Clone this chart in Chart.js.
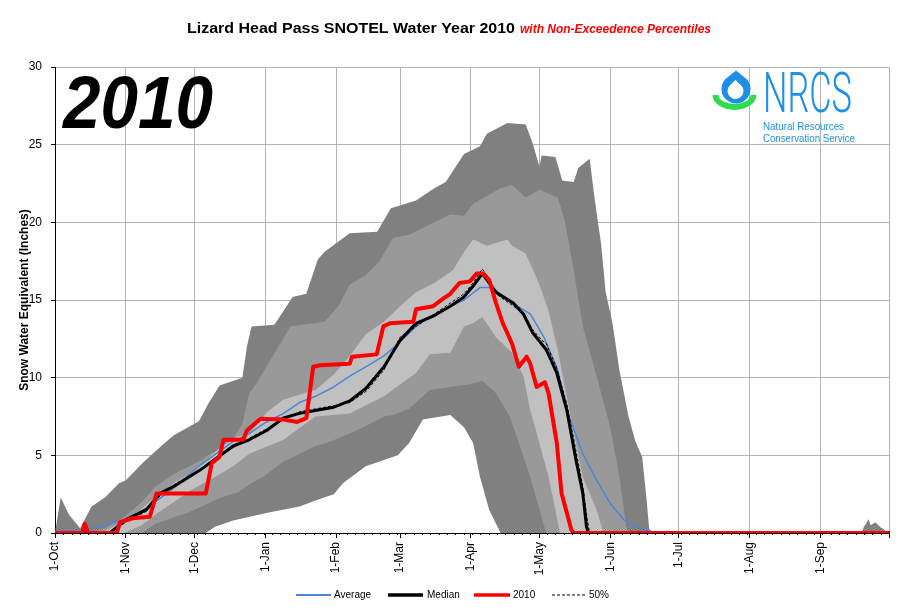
<!DOCTYPE html>
<html>
<head>
<meta charset="utf-8">
<script src="https://cdn.jsdelivr.net/npm/chart.js@4.4.1/dist/chart.umd.min.js"></script>
<style>
html,body{margin:0;padding:0;background:#fff;}
#wrap{width:901px;height:613px;}
</style>
</head>
<body>
<div id="wrap"><canvas id="c" width="901" height="613"></canvas></div>
<script>
// ---- axis categories (day of water year, starting 1-Oct) ----
const monthDays   = [0, 31, 61, 92, 123, 151, 182, 212, 243, 273, 304, 335, 365];
const monthLabels = ['1-Oct','1-Nov','1-Dec','1-Jan','1-Feb','1-Mar','1-Apr','1-May','1-Jun','1-Jul','1-Aug','1-Sep',''];
const yTicks = [0, 5, 10, 15, 20, 25, 30];

// ---- percentile envelopes [day, SWE inches] ----
const pMax = [[0,0],[2.5,2.3],[6,1.2],[11,0.3],[16,1.7],[22,2.3],[28,3.2],[31,3.4],[39,4.6],[48,5.8],[52,6.3],[63,7.2],[67,8.3],[72,9.5],[82,10.0],[84,12.0],[86,13.3],[96,13.4],[104,15.2],[110,15.4],[115,17.6],[118,18.1],[129,19.3],[141,19.4],[147,20.9],[158,21.4],[166,22.2],[171,22.6],[179,24.4],[186,24.9],[189,25.7],[198,26.4],[206,26.3],[209,25.1],[212,23.6],[213,24.3],[219,24.2],[222,22.7],[227,22.6],[229,23.5],[234,24.1],[236,21.7],[239,18.6],[241,15.5],[244,13.5],[247,10.5],[251,7.5],[254,5.9],[257,4.9],[259,2.0],[260,0.3],[261,0],[353,0],[354,0.4],[355,0.6],[356,0.9],[357,0.5],[359,0.7],[361,0.4],[363,0.2],[364,0],[365,0]];
const p90 = [[0,0],[15,0],[22,0.3],[30,1.0],[38,2.0],[44,3.0],[52,3.8],[63,4.6],[68,5.1],[76,5.7],[82,7.0],[85,9.0],[88,9.6],[97,11.8],[103,13.3],[118,13.6],[124,14.6],[129,16.0],[136,16.6],[142,17.5],[148,19.0],[155,19.2],[166,20.0],[173,20.5],[179,20.4],[183,21.2],[195,22.2],[200,22.4],[206,21.6],[212,22.1],[220,21.6],[223,20.2],[227,16.9],[231,13.3],[234,11.7],[237,10.1],[243,6.8],[247,3.6],[250,0.4],[251,0],[365,0]];
const p70 = [[0,0],[20,0],[28,0.6],[35,1.2],[44,2.3],[52,3.2],[61,4.0],[73,5.6],[80,6.2],[85,6.4],[93,7.8],[100,8.6],[114,9.2],[122,10.2],[129,11.4],[136,12.8],[144,13.6],[151,14.6],[158,15.5],[166,16.1],[174,16.9],[180,18.3],[183,18.9],[189,18.5],[198,18.9],[200,18.5],[206,18.0],[212,16.0],[216,14.3],[220,11.8],[225,8.0],[231,3.6],[237,1.5],[240,0],[365,0]];
const p30 = [[0,0],[30,0],[38,0.5],[45,1.3],[52,2.0],[60,2.8],[70,3.6],[78,4.3],[85,5.1],[100,6.0],[114,7.5],[129,7.7],[144,8.8],[158,10.3],[164,11.5],[173,11.6],[179,13.3],[183,13.5],[187,13.9],[193,12.6],[200,11.6],[205,10.1],[208,7.9],[212,5.8],[216,3.6],[219,1.5],[221,0],[365,0]];
const p10 = [[0,0],[38,0],[44,0.6],[58,1.3],[73,2.3],[80,2.6],[87,3.3],[91,3.6],[100,4.6],[103,4.8],[114,5.6],[119,5.8],[129,6.4],[135,6.8],[144,7.5],[148,7.6],[155,8.0],[164,9.2],[173,9.4],[182,9.6],[187,9.8],[193,9.0],[199,7.5],[203,5.8],[208,3.6],[212,1.5],[215,0],[365,0]];
const pMin = [[0,0],[66,0],[70,0.4],[78,0.8],[93,1.3],[107,1.7],[114,2.1],[122,2.5],[126,3.2],[136,4.3],[150,5.0],[155,5.8],[161,7.3],[173,7.6],[179,6.8],[183,5.8],[186,3.6],[190,1.5],[195,0],[365,0]];

// ---- line series ----
const avgSeries = [[0,0.1],[10,0.15],[20,0.4],[30,0.85],[40,1.6],[49,2.55],[63,4.3],[78,5.9],[85,6.4],[92,7.1],[100,7.7],[107,8.4],[114,8.8],[122,9.4],[129,10.1],[136,10.7],[144,11.4],[151,12.3],[158,13.3],[164,13.9],[173,14.6],[179,15.0],[186,15.8],[190,15.8],[193,15.6],[200,14.8],[208,14.1],[214,12.6],[220,10.5],[225,7.5],[231,5.1],[237,3.4],[243,1.9],[249,0.84],[254,0.4],[260,0.15],[263,0],[365,0]];
const medianSeries = [[0,0],[24,0],[31,0.84],[40,1.5],[46,2.55],[52,3.0],[63.5,4.05],[78,5.6],[85,6.0],[92.6,6.6],[100,7.4],[107,7.7],[114.5,7.9],[122,8.1],[129,8.5],[136,9.3],[144,10.7],[151,12.4],[158,13.5],[166,14.0],[173,14.6],[179,15.2],[183,15.9],[187,16.7],[190,16.1],[193,15.5],[200.6,14.8],[205,14.1],[209,12.9],[215,11.8],[219.6,10.3],[224,7.9],[228,4.7],[231,2.55],[232.6,0.4],[233.5,0],[365,0]];
const p50Series = [[0,0],[24,0],[31,0.7],[40,1.4],[46,2.4],[52,3.1],[63.5,4.1],[78,5.5],[85,6.1],[92.6,6.7],[100,7.3],[107,7.8],[114.5,8.0],[122,8.2],[129,8.4],[136,9.1],[140,9.8],[144,10.5],[151,12.6],[158,13.3],[166,14.1],[173,14.8],[179,15.4],[183,16.1],[187,17.0],[190,16.4],[193,15.4],[200.6,14.6],[205,14.2],[209,13.1],[213,12.4],[215,12.2],[219.6,10.6],[224,8.3],[228,5.3],[231,3.0],[233,0.8],[234,0],[365,0]];
const wy2010 = [[0,0],[12,0],[13,0.6],[14.5,0],[27,0],[28.5,0.7],[34,0.95],[41.5,1.05],[44.5,2.55],[66,2.55],[68.6,4.5],[72,4.9],[73.7,6.0],[82.4,6.0],[84,6.6],[86.8,6.95],[90,7.35],[100,7.3],[106,7.15],[110,7.4],[112,9.6],[113,10.7],[116,10.8],[129,10.9],[130,11.35],[140.8,11.5],[143.7,13.3],[146.6,13.5],[156.8,13.6],[158,14.4],[165.5,14.6],[170,15.1],[173,15.4],[177,16.1],[181.6,16.2],[184.5,16.7],[187.4,16.7],[190,16.3],[193,14.8],[196,13.5],[200,12.2],[203,10.7],[206.4,11.35],[208,10.9],[210.8,9.4],[214.4,9.7],[216,9.0],[219.6,5.8],[221.7,2.55],[224,1.3],[226,0.2],[227,0],[365,0]];

const DARK = '#808080', MED = '#999999', LIGHT = '#c0c0c0';
const GRID = '#b4b4b4';
const FONT = "'Liberation Sans', Arial, sans-serif";

Chart.defaults.font.family = FONT;
Chart.defaults.color = '#000';

function band(data, color, order) {
  return { data, fill: 'origin', backgroundColor: color, borderColor: 'rgba(0,0,0,0)',
           borderWidth: 0, pointRadius: 0, tension: 0, order };
}
function line(label, data, color, width, order, dash) {
  return { label, data, fill: false, borderColor: color, borderWidth: width, pointRadius: 0,
           tension: 0, order, borderDash: dash || [], borderJoinStyle: 'round' };
}

function fitText(ctx, text, font, color, x, baseline, width) {
  ctx.save();
  ctx.font = font;
  const w = ctx.measureText(text).width;
  ctx.translate(x, baseline);
  ctx.scale(width / w, 1);
  ctx.fillStyle = color;
  ctx.textAlign = 'left';
  ctx.textBaseline = 'alphabetic';
  ctx.fillText(text, 0, 0);
  ctx.restore();
}

function dropPath(ctx, cx, cy, r, tipY) {
  const d = cy - tipY;
  const phi = Math.acos(r / d);
  ctx.beginPath();
  ctx.moveTo(cx, tipY);
  ctx.lineTo(cx + r * Math.cos(-Math.PI / 2 + phi), cy + r * Math.sin(-Math.PI / 2 + phi));
  ctx.arc(cx, cy, r, -Math.PI / 2 + phi, -Math.PI / 2 - phi + 2 * Math.PI, false);
  ctx.closePath();
}

const minorTicks = {
  id: 'minorTicks',
  beforeDatasetsDraw(chart) {
    const ctx = chart.ctx, xs = chart.scales.x, base = chart.chartArea.bottom;
    ctx.save();
    ctx.strokeStyle = '#000';
    ctx.lineWidth = 1;
    for (let d = 0; d <= 365; d += 3.65) {
      const px = Math.round(xs.getPixelForValue(d)) + 0.5;
      ctx.beginPath(); ctx.moveTo(px, base - 2); ctx.lineTo(px, base + 2); ctx.stroke();
    }
    ctx.restore();
  }
};

const overlay = {
  id: 'overlay',
  afterDraw(chart) {
    const ctx = chart.ctx;
    // Title
    fitText(ctx, 'Lizard Head Pass SNOTEL Water Year 2010', "bold 14px " + FONT, '#000', 187, 33, 328);
    fitText(ctx, 'with Non-Exceedence Percentiles', "italic bold 12px " + FONT, '#ff0000', 520, 33, 191);
    // Big year
    fitText(ctx, '2010', "italic bold 74px " + FONT, '#000', 63, 128, 150);
    // NRCS logo
    ctx.save();
    ctx.fillStyle = '#1d8fe6';
    dropPath(ctx, 736, 89, 14.5, 70.5); ctx.fill();
    ctx.fillStyle = '#fff';
    dropPath(ctx, 735.5, 91, 8, 80); ctx.fill();
    ctx.fillStyle = '#2fdc4e';
    ctx.beginPath();
    ctx.ellipse(734.5, 95, 22, 15, 0, 0, Math.PI, false);
    ctx.ellipse(734.5, 95, 16, 9, 0, Math.PI, 0, true);
    ctx.closePath(); ctx.fill();
    ctx.restore();
    fitText(ctx, 'NRCS', "300 55px Roboto, " + FONT, '#1d8fe6', 763, 111.7, 89);
    fitText(ctx, 'Natural Resources', "10.5px " + FONT, '#1d8fe6', 763, 130, 81);
    fitText(ctx, 'Conservation Service', "10.5px " + FONT, '#1d8fe6', 763, 141.7, 92);
    // Legend
    const ly = 595;
    ctx.save();
    ctx.font = "10px " + FONT;
    ctx.textBaseline = 'middle';
    ctx.fillStyle = '#000';
    const items = [
      { x0: 296, x1: 331, color: '#4a86d8', w: 2, dash: [], text: 'Average', tx: 334 },
      { x0: 388, x1: 423, color: '#000', w: 3.5, dash: [], text: 'Median', tx: 427 },
      { x0: 474, x1: 510, color: '#ff0000', w: 3.5, dash: [], text: '2010', tx: 513 },
      { x0: 552, x1: 587, color: '#000', w: 1, dash: [3, 2], text: '50%', tx: 589 }
    ];
    items.forEach(it => {
      ctx.strokeStyle = it.color; ctx.lineWidth = it.w; ctx.setLineDash(it.dash);
      ctx.beginPath(); ctx.moveTo(it.x0, ly); ctx.lineTo(it.x1, ly); ctx.stroke();
      ctx.fillText(it.text, it.tx, ly);
    });
    ctx.restore();
  }
};

new Chart(document.getElementById('c'), {
  type: 'line',
  data: {
    datasets: [
      band(pMax, DARK, 20),
      band(p90, MED, 19),
      band(p70, LIGHT, 18),
      band(p30, MED, 17),
      band(p10, DARK, 16),
      band(pMin, '#ffffff', 15),
      line('Average', avgSeries, '#4a86d8', 1.5, 4),
      line('50%', p50Series, '#000', 1, 3, [3, 2]),
      line('Median', medianSeries, '#000', 3, 2),
      line('2010', wy2010, '#ff0000', 4, 1)
    ]
  },
  options: {
    responsive: false,
    animation: false,
    devicePixelRatio: 1,
    layout: { padding: { top: 67, right: 12, bottom: 0, left: 0 } },
    plugins: { legend: { display: false }, tooltip: { enabled: false } },
    scales: {
      x: {
        type: 'linear', min: 0, max: 365,
        afterBuildTicks: (s) => { s.ticks = monthDays.map(v => ({ value: v })); },
        afterFit: (s) => { s.height = 80; s.paddingLeft = 0; s.paddingRight = 0; },
        ticks: {
          autoSkip: false, maxRotation: 90, minRotation: 90, padding: 4,
          font: { size: 12 }, color: '#000',
          callback: (v) => monthLabels[monthDays.indexOf(v)]
        },
        grid: { color: GRID, tickColor: '#000', tickLength: 5, lineWidth: 1 },
        border: { color: '#000', width: 1 }
      },
      y: {
        min: 0, max: 30,
        afterBuildTicks: (s) => { s.ticks = yTicks.map(v => ({ value: v })); },
        afterFit: (s) => { s.width = 55; s.paddingTop = 0; s.paddingBottom = 0; },
        ticks: { padding: 9, font: { size: 12 }, color: '#000' },
        grid: { color: GRID, tickColor: '#000', tickLength: 4, lineWidth: 1 },
        border: { color: '#000', width: 1 },
        title: { display: true, text: 'Snow Water Equivalent (Inches)',
                 font: { size: 12, weight: 'bold' }, color: '#000', padding: { top: 17, bottom: 0 } }
      }
    }
  },
  plugins: [minorTicks, overlay]
});
</script>
</body>
</html>
